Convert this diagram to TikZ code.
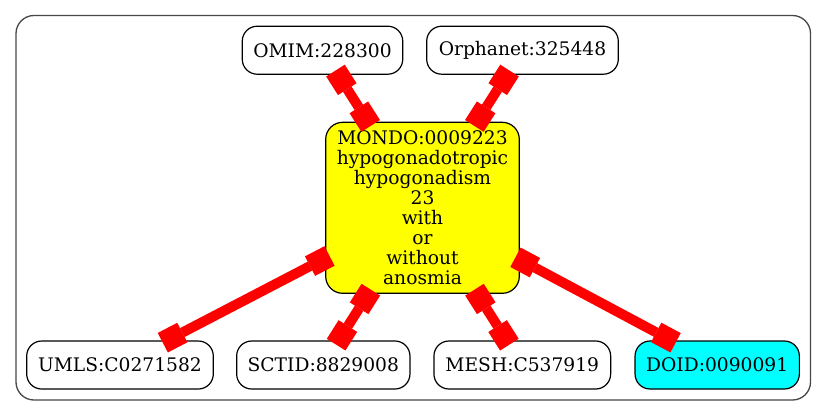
\documentclass[tikz,border=0pt]{standalone}
\usepackage{fontspec}
\setmainfont{DejaVu Serif}
\usetikzlibrary{arrows.meta}
\definecolor{gvyellow}{RGB}{255,255,0}
\definecolor{gvcyan}{RGB}{0,255,255}
\definecolor{gvred}{RGB}{255,0,0}
\begin{document}
\begin{tikzpicture}[x=1pt,y=-1pt,
  gnode/.style={draw=black,line width=1.2pt,rounded corners=15pt,fill=white,
    minimum height=48pt,inner sep=0pt,align=center,
    font=\fontsize{18.67}{20}\selectfont},
  boxtip/.tip={Square[length=22pt,width=22pt,line width=0pt]},
  link/.style={draw=gvred,line width=10pt,boxtip-boxtip,
    shorten <=-5pt,shorten >=-5pt}]
\useasboundingbox (0,0) rectangle (827,416);
\node[draw=black!72,line width=1.3pt,rounded corners=18pt,inner sep=0pt,
  minimum width=794.5pt,minimum height=384.5pt] (frame) at (413.25,207.75) {};

\node[gnode,minimum width=160.5pt] (omim) at (322.5,50.2) {OMIM:228300};
\node[gnode,minimum width=191.6pt] (orpha) at (522.5,50.2) {Orphanet:325448};
\node[gnode,fill=gvyellow,minimum width=193.6pt,minimum height=171pt,rounded corners=17pt]
  (mondo) at (422.5,207.8) {MONDO:0009223\\hypogonadotropic\\hypogonadism\\23\\with\\or\\without\\anosmia};
\node[gnode,minimum width=186.6pt] (umls) at (120,365) {UMLS:C0271582};
\node[gnode,minimum width=173.3pt] (sctid) at (323.3,365) {SCTID:8829008};
\node[gnode,minimum width=176.7pt] (mesh) at (522.3,365) {MESH:C537919};
\node[gnode,fill=gvcyan,minimum width=164.3pt] (doid) at (717.2,365) {DOID:0090091};

\draw[link] (omim) -- (mondo);
\draw[link] (orpha) -- (mondo);
\draw[link] (mondo) -- (umls);
\draw[link] (mondo) -- (sctid);
\draw[link] (mondo) -- (mesh);
\draw[link] (mondo) -- (doid);
\end{tikzpicture}
\end{document}
